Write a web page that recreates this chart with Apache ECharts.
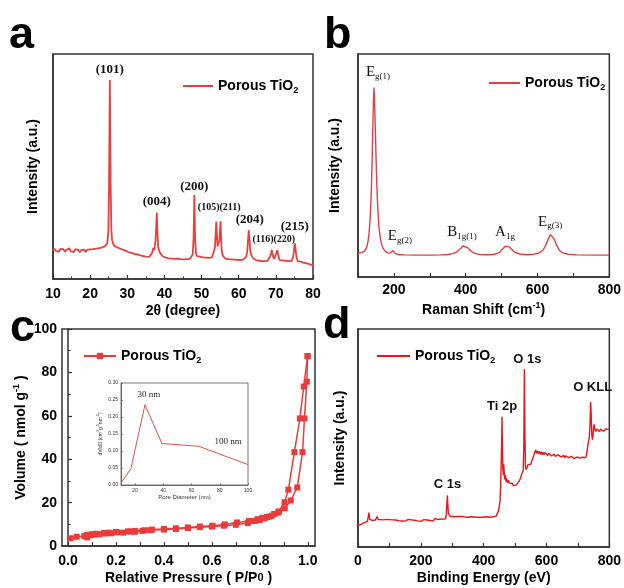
<!DOCTYPE html>
<html>
<head>
<meta charset="utf-8">
<script src="https://cdn.jsdelivr.net/npm/echarts@6/dist/echarts.min.js"></script>
<style>
  html, body { margin: 0; padding: 0; background: #fff; }
  #chart { width: 624px; height: 588px; }
</style>
</head>
<body>
<div id="chart"></div>
<script>
// ---------- (a) XRD pattern: [2θ, intensity a.u.] ----------
const xrdPattern = [
  [10.0,12.6],[10.4,13.5],[10.8,12.4],[11.2,13.1],[11.6,12.2],[12.0,13.4],[12.4,12.7],[12.8,13.3],
  [13.2,12.1],[13.6,13.0],[14.0,12.5],[14.4,13.6],[14.8,12.3],[15.2,12.9],[15.6,12.0],[16.0,13.2],
  [16.4,12.4],[16.8,13.0],[17.2,11.9],[17.6,12.8],[18.0,12.2],[18.4,13.1],[18.8,12.0],[19.2,12.9],
  [19.6,12.3],[20.0,13.2],[20.4,12.4],[20.8,13.3],[21.2,12.6],[21.6,13.5],[22.0,12.8],[22.4,13.7],
  [22.8,13.0],[23.2,14.0],[23.6,13.4],[24.0,14.6],[24.3,14.2],[24.6,15.8],[24.9,21],[25.1,42],
  [25.3,88.4],[25.5,44],[25.7,22],[25.9,17.5],[26.2,15.6],[26.5,14.7],[26.8,15.3],[27.1,14.2],
  [27.5,14.8],[27.9,13.6],[28.3,14.2],[28.7,13.1],[29.1,13.6],[29.5,12.6],[29.9,13.0],[30.3,12.0],
  [30.7,12.5],[31.1,11.6],[31.5,12.2],[31.9,11.2],[32.3,11.8],[32.7,10.9],[33.1,11.4],[33.5,10.5],
  [33.9,11.0],[34.3,10.2],[34.7,10.7],[35.1,9.9],[35.5,10.4],[35.9,9.8],[36.3,10.6],[36.7,11.6],
  [37.0,13.8],[37.3,12.9],[37.6,17],[37.8,24],[37.95,29.5],[38.1,22],[38.3,14.5],[38.5,12.8],
  [38.7,13.5],[38.9,11.4],[39.2,10.6],[39.6,10.0],[40.0,10.3],[40.4,9.5],[40.8,10.0],[41.2,9.2],
  [41.6,9.8],[42.0,9.1],[42.4,9.6],[42.8,8.9],[43.2,9.5],[43.6,9.0],[44.0,9.4],[44.4,8.8],
  [44.8,9.3],[45.2,8.7],[45.6,9.2],[46.0,8.8],[46.4,9.4],[46.8,8.9],[47.2,9.6],[47.6,10.8],
  [47.85,18],[48.05,37.3],[48.25,18],[48.5,11.2],[48.8,10.2],[49.2,9.4],[49.6,9.9],[50.0,9.1],
  [50.4,9.6],[50.8,9.0],[51.2,9.5],[51.6,8.9],[52.0,9.4],[52.4,8.9],[52.8,9.6],[53.2,10.3],
  [53.6,14],[53.95,25.5],[54.3,14.5],[54.55,15.9],[54.8,17],[55.1,25.6],[55.4,13],[55.7,10.4],
  [56.0,9.6],[56.4,9.1],[56.8,9.5],[57.2,8.8],[57.6,9.3],[58.0,8.7],[58.4,9.2],[58.8,8.6],
  [59.2,9.1],[59.6,8.5],[60.0,9.0],[60.4,8.4],[60.8,9.0],[61.2,8.6],[61.6,9.3],[62.0,9.8],
  [62.3,12.5],[62.5,17],[62.7,21.8],[62.9,17.5],[63.1,12.8],[63.4,10.6],[63.8,9.4],[64.2,9.0],
  [64.6,8.4],[65.0,8.9],[65.4,8.2],[65.8,8.7],[66.2,8.0],[66.6,8.5],[67.0,7.9],[67.4,8.4],
  [67.8,8.1],[68.2,8.9],[68.6,10.6],[68.9,12.9],[69.2,10.4],[69.5,8.9],[69.8,9.6],[70.1,11.4],
  [70.4,12.9],[70.7,10.2],[71.0,8.4],[71.4,7.9],[71.8,8.3],[72.2,7.6],[72.6,8.1],[73.0,7.4],
  [73.4,7.9],[73.8,7.5],[74.2,8.0],[74.6,9.4],[74.9,13],[75.1,15.9],[75.35,12.5],[75.6,9.2],
  [75.9,7.9],[76.2,7.2],[76.6,7.7],[77.0,6.9],[77.4,7.3],[77.8,6.5],[78.2,7.0],[78.6,6.2],
  [79.0,6.6],[79.4,5.8],[79.8,6.2],[80.0,5.6]
];
// reflection indices with the peak each one sits over: [label, 2θ, intensity]
const xrdPeaks = [
  ['(101)', 25.3, 88.4], ['(004)', 37.95, 29.5], ['(200)', 48.05, 37.3],
  ['(105)(211)', 53.95, 25.5], ['(204)', 62.7, 21.8], ['(116)(220)', 68.9, 12.9], ['(215)', 75.1, 15.9]
];

// ---------- (b) Raman spectrum: [shift cm-1, intensity a.u.] ----------
const ramanSpectrum = [
  [100,10.5],[110,10.9],[118,11.6],[124,13.2],[128,16],[131,20],[134,27],[137,38],[139,50],
  [141,65],[143,79],[144.5,85],[146,80],[148,68],[150,55],[152,43],[155,31],[158,23],[162,17.5],
  [166,14.5],[171,12.6],[177,11.4],[184,10.8],[190,10.7],[194,11.2],[197,11.9],[200,11.3],
  [204,10.5],[212,10.1],[230,9.9],[260,9.8],[300,9.8],[330,9.9],[350,10.1],[365,10.5],[375,11.3],
  [385,12.7],[393,13.9],[398,14.0],[405,13.2],[415,11.6],[425,10.6],[440,10.1],[460,10.0],
  [475,10.1],[485,10.4],[495,11.2],[503,12.6],[510,13.8],[515,14.0],[520,13.6],[528,12.4],
  [538,11.0],[550,10.3],[570,10.0],[590,10.2],[605,10.8],[615,12.0],[623,14.2],[630,17.0],
  [636,19.0],[641,18.9],[646,17.2],[653,14.4],[661,12.0],[670,10.8],[685,10.2],[710,9.9],
  [760,9.8],[800,9.8]
];
// Raman-active modes: [main letter, subscript, shift, intensity]
const ramanModes = [
  ['E', 'g(1)', 144.5, 85], ['E', 'g(2)', 197, 11.9], ['B', '1g(1)', 398, 14.0],
  ['A', '1g', 515, 14.0], ['E', 'g(3)', 638, 19.0]
];

// ---------- (c) N2 isotherm: [P/P0, volume] ----------
const isothermAdsorption = [
  [0.011,3.6],[0.036,4.3],[0.068,4.6],[0.08,4.0],[0.095,5.0],[0.11,5.3],[0.13,5.4],[0.155,5.8],
  [0.18,5.9],[0.205,6.3],[0.23,6.2],[0.26,6.7],[0.28,6.6],[0.31,7.0],[0.345,7.3],[0.40,7.6],
  [0.45,7.9],[0.50,8.3],[0.55,8.7],[0.60,9.0],[0.65,9.4],[0.70,9.8],[0.75,10.6],[0.78,11.6],
  [0.80,12.0],[0.82,12.8],[0.84,13.6],[0.86,14.8],[0.88,16.0],[0.904,17.4],[0.929,21.0],
  [0.956,27.0],[0.978,43.3],[0.986,58.8],[0.996,75.7],[0.999,87.5]
];
const isothermDesorption = [
  [0.999,87.5],[0.983,73.5],[0.967,58.8],[0.944,43.3],[0.919,26.0],[0.903,20.2],[0.876,15.4],
  [0.85,14.0],[0.83,13.4],[0.81,13.0],[0.79,12.4],[0.755,11.6],[0.705,10.9],[0.654,10.0],
  [0.603,9.4],[0.55,9.0],[0.50,8.6],[0.45,8.2],[0.40,7.9],[0.35,7.6],[0.32,7.3],[0.28,7.0],
  [0.25,6.8],[0.20,6.5],[0.17,6.2],[0.15,6.0],[0.12,5.7],[0.10,5.5],[0.08,5.2]
];
const pressureTicks = [0, 0.2, 0.4, 0.6, 0.8, 1.0];
const pressureMinorTicks = [0, 0.1, 0.2, 0.3, 0.4, 0.5, 0.6, 0.7, 0.8, 0.9, 1.0];

// ---------- (c, inset) pore size distribution: [diameter nm, dV/dD] ----------
const poreDistribution = [[10,0.006],[17,0.048],[27,0.236],[39,0.122],[65,0.114],[100,0.060]];
const poreTicks = [20, 40, 60, 80, 100];
const poreNotes = [['30 nm', 27, 0.236], ['100 nm', 86, 0.128]];

// ---------- (d) XPS survey: [binding energy eV, intensity a.u.] ----------
const xpsSurvey = [
  [0,10.0],[5,9.6],[10,10.4],[15,10.8],[20,11.2],[25,11.0],[30,11.8],[33,12.4],[35,15.8],[37,12.8],
  [40,12.0],[45,12.2],[50,11.8],[55,12.4],[58,12.8],[61,14.0],[64,12.6],[68,12.2],[72,12.6],[76,12.0],
  [80,12.5],[85,12.1],[90,12.7],[95,12.2],[100,12.6],[105,12.0],[110,12.5],[115,11.9],[120,12.4],
  [125,12.8],[130,12.1],[135,12.6],[140,12.0],[145,12.5],[150,11.9],[155,12.4],[160,12.7],[165,12.1],
  [170,12.5],[175,11.9],[180,12.3],[185,12.7],[190,12.0],[195,12.4],[200,11.8],[205,12.3],[210,12.6],
  [215,12.0],[220,12.4],[225,12.8],[230,12.2],[235,12.6],[240,12.1],[245,13.2],[248,12.4],[252,12.7],
  [256,12.2],[260,12.8],[265,12.4],[270,12.9],[275,12.6],[279,13.0],[281,15],[283,20],[284.5,23.7],
  [286,19],[288,15.2],[290,14.4],[294,14.0],[298,14.6],[302,14.1],[306,14.5],[310,13.9],[315,14.4],
  [320,14.0],[325,14.6],[330,14.1],[335,14.5],[340,13.8],[345,14.3],[350,13.7],[355,14.2],[360,13.9],
  [365,14.4],[370,13.8],[375,14.3],[380,13.7],[385,14.1],[390,13.6],[395,14.2],[400,13.8],[405,14.4],
  [410,13.9],[415,14.3],[420,13.7],[425,14.2],[430,13.9],[435,14.6],[440,14.2],[444,14.8],[447,16.5],
  [450,19],[452,21],[454,28],[456,40],[457.5,50],[458.5,59.8],[459.5,48],[461,36],[462.5,33],[464,38],
  [465.5,34],[467,31],[469,33],[471,30],[473,31.5],[476,29.5],[479,30.6],[482,29.2],[485,29.8],
  [488,28.6],[491,29.3],[494,28.2],[497,28.8],[500,27.6],[503,28.4],[506,29.0],[509,28.6],[512,30.0],
  [515,30.6],[518,31.8],[521,33.5],[524,32.8],[526,35],[528,48],[529.5,81.5],[531,55],[533,37],
  [535,35.5],[538,36.5],[541,37.8],[544,37.2],[547,38.6],[550,38.0],[553,39.5],[556,40.2],[559,41.8],
  [562,43.2],[565,44.5],[568,43.0],[571,44.2],[574,42.8],[577,43.9],[580,42.6],[583,43.7],[586,42.4],
  [589,43.5],[592,42.3],[595,43.4],[598,42.5],[601,43.2],[604,42.0],[607,43.0],[610,42.2],[613,42.9],
  [616,41.8],[619,42.7],[622,41.9],[625,42.6],[628,41.6],[631,42.5],[634,41.7],[637,42.3],[640,41.5],
  [643,42.6],[646,41.4],[649,42.1],[652,41.3],[655,42.0],[658,40.8],[661,41.9],[664,41.2],[667,42.0],
  [670,41.0],[673,41.7],[676,40.8],[679,41.6],[682,40.9],[685,41.5],[688,40.6],[691,41.4],[694,40.7],
  [697,41.3],[700,40.5],[703,41.2],[706,40.8],[709,41.4],[712,40.6],[715,41.2],[718,40.7],[721,41.3],
  [724,41.0],[727,42.0],[730,45],[733,48],[736,50],[738.5,56],[740.5,66.5],[742,62],[744,52],
  [746,49.2],[748,51],[750,55],[752,56.3],[754,54],[757,53],[760,54.2],[763,53.4],[766,54.5],
  [769,53.0],[772,54.1],[775,53.2],[778,54.3],[781,53.1],[784,54.0],[787,52.9],[790,54.2],[793,53.5],
  [796,54.6],[800,54.0]
];
// core levels: [label, binding energy, intensity]
const xpsLines = [['C 1s', 284.5, 23.7], ['Ti 2p', 458.5, 59.8], ['O 1s', 529.5, 81.5], ['O KLL', 740.5, 66.5]];

// ---------- styling ----------
const SANS = '"Liberation Sans", Arial, Helvetica, sans-serif';
const SERIF = '"Liberation Serif", "Times New Roman", serif';
const AXIS = '#333';
const legendText = () => 'Porous TiO{sub|2}';

const xrdLabelOffsets = [[0,-10],[0,-11],[0,-8],[3,-14],[1,-10],[2,-11],[0,-17]];
const ramanLabelOffsets = [[4,-15],[7,-14],[-3,-14],[-2,-14],[-1,-13]];
const xpsLabelOffsets = [[0,-11],[0,-10],[3,-10],[2,-15]];
const poreNoteOffsets = [[4,-10],[0,0]];

const boldLabel = { color: '#000', fontSize: 14, fontWeight: 'bold', fontFamily: SANS };
const nameStyle = {
  color: '#000', fontSize: 14, fontWeight: 'bold', fontFamily: SANS, lineHeight: 18,
  rich: { sup: { fontSize: 9, fontWeight: 'bold', fontFamily: SANS, color: '#000', verticalAlign: 'top', lineHeight: 18 },
          sm:  { fontSize: 11, fontWeight: 'bold', fontFamily: SANS, color: '#000' } }
};
const axisLine = { show: true, lineStyle: { color: AXIS, width: 1.5 } };
const grids = [
  { left: 53,  top: 54,  width: 260, height: 225 },
  { left: 358, top: 54,  width: 259, height: 223 },
  { left: 62,  top: 329, width: 253, height: 222 },
  { left: 358, top: 329, width: 259, height: 222 },
  { left: 121, top: 383, width: 127, height: 102 }
].map((g, i) => Object.assign(g, {
  show: true, borderColor: i === 4 ? '#555' : AXIS, borderWidth: i === 4 ? 0.8 : 1.5, backgroundColor: 'transparent'
}));

function bottomAxis(gridIndex, extra) {
  return Object.assign({
    gridIndex, type: 'value', axisLine,
    axisTick: { show: true, inside: true, length: 4, lineStyle: { color: AXIS, width: 1.2 } },
    axisLabel: Object.assign({ margin: 8 }, boldLabel),
    splitLine: { show: false },
    nameLocation: 'middle', nameTextStyle: nameStyle
  }, extra);
}
function plainLeftAxis(gridIndex, name, nameGap) {
  return {
    gridIndex, type: 'value', min: 0, max: 100, axisLine,
    axisTick: { show: false }, axisLabel: { show: false }, splitLine: { show: false },
    name, nameLocation: 'middle', nameGap, nameTextStyle: nameStyle
  };
}
function markLabels(items, offsets, labelFn, style) {
  return {
    symbol: 'circle', symbolSize: 0, silent: true, animation: false,
    label: Object.assign({ show: true, position: 'inside', formatter: p => labelFn(p.name) }, style),
    data: items.map((it, i) => ({ name: it[0], coord: [it[it.length - 2], it[it.length - 1]],
      label: { offset: offsets[i] } }))
  };
}

const chart = echarts.init(document.getElementById('chart'), null, { renderer: 'canvas' });
chart.setOption({
  animation: false,
  backgroundColor: '#fff',
  grid: grids,
  xAxis: [
    bottomAxis(0, { min: 10, max: 80, interval: 10,
      minorTick: { show: true, splitNumber: 2, length: 2.5, lineStyle: { color: AXIS } },
      name: '2θ (degree)', nameGap: 23 }),
    bottomAxis(1, { min: 100, max: 800, interval: 100,
      axisLabel: Object.assign({ margin: 6, formatter: v => (v % 200 === 0 ? String(v) : '') }, boldLabel),
      name: 'Raman Shift (cm{sup|-1})', nameGap: 24 }),
    bottomAxis(2, { min: -0.025, max: 1.03,
      axisTick: { show: true, inside: true, length: 4, customValues: pressureMinorTicks, lineStyle: { color: AXIS, width: 1.2 } },
      axisLabel: Object.assign({ margin: 8, customValues: pressureTicks, formatter: v => v.toFixed(1) }, boldLabel),
      name: 'Relative Pressure ( P/P{sm|0} )', nameGap: 22 }),
    bottomAxis(3, { min: 0, max: 800, interval: 100,
      axisLabel: Object.assign({ margin: 7, formatter: v => (v % 200 === 0 ? String(v) : '') }, boldLabel),
      name: 'Binding Energy (eV)', nameGap: 20 }),
    {
      gridIndex: 4, type: 'value', min: 10, max: 100,
      axisLine: { show: true, lineStyle: { color: '#555', width: 0.8 } },
      axisTick: { show: true, inside: true, length: 2, customValues: poreTicks, lineStyle: { color: '#555', width: 0.6 } },
      axisLabel: { customValues: poreTicks, fontSize: 5, color: '#333', margin: 3, fontFamily: SANS },
      splitLine: { show: false },
      name: 'Pore Diameter (nm)', nameLocation: 'middle', nameGap: 9,
      nameTextStyle: { fontSize: 6, color: '#333', fontFamily: SANS }
    }
  ],
  yAxis: [
    plainLeftAxis(0, 'Intensity (a.u.)', 11),
    plainLeftAxis(1, 'Intensity (a.u.)', 14),
    {
      gridIndex: 2, type: 'value', min: 0, max: 100, interval: 20, axisLine,
      axisTick: { show: true, inside: true, length: 4, lineStyle: { color: AXIS, width: 1.2 } },
      minorTick: { show: true, splitNumber: 2, length: 2.5, lineStyle: { color: AXIS } },
      axisLabel: Object.assign({ margin: 5 }, boldLabel), splitLine: { show: false },
      name: 'Volume ( nmol g{sup|-1} )', nameLocation: 'middle', nameGap: 18, nameTextStyle: nameStyle
    },
    plainLeftAxis(3, 'Intensity (a.u.)', 9),
    {
      gridIndex: 4, type: 'value', min: 0, max: 0.3, interval: 0.05,
      axisLine: { show: true, lineStyle: { color: '#555', width: 0.8 } },
      axisTick: { show: true, inside: true, length: 2, lineStyle: { color: '#555', width: 0.6 } },
      axisLabel: { fontSize: 5, color: '#333', margin: 3, fontFamily: SANS, formatter: v => v.toFixed(2) },
      splitLine: { show: false },
      name: 'dV/dD (cm{sup|3}g{sup|-1}nm{sup|-1})', nameLocation: 'middle', nameGap: 13,
      nameTextStyle: { fontSize: 5, color: '#333', fontFamily: SANS, lineHeight: 8,
        rich: { sup: { fontSize: 3.5, color: '#333', verticalAlign: 'top', lineHeight: 8 } } }
    }
  ],
  legend: [
    { data: [{ name: 'XRD', icon: 'rect' }], left: 183, top: 77, itemWidth: 30, itemHeight: 2 },
    { data: [{ name: 'Raman', icon: 'rect' }], left: 489, top: 74, itemWidth: 31, itemHeight: 2 },
    { data: ['Adsorption'], left: 83, top: 347, itemWidth: 32, itemHeight: 8 },
    { data: [{ name: 'XPS', icon: 'rect' }], left: 377, top: 347, itemWidth: 33, itemHeight: 2 }
  ].map(l => Object.assign({
    padding: 0, itemGap: 0, formatter: legendText, selectedMode: false,
    textStyle: { color: '#000', fontSize: 14, fontWeight: 'bold', fontFamily: SANS, lineHeight: 18,
      rich: { sub: { fontSize: 9, fontWeight: 'bold', fontFamily: SANS, color: '#000', verticalAlign: 'bottom', lineHeight: 18 } } }
  }, l)),
  series: [
    {
      name: 'XRD', type: 'line', xAxisIndex: 0, yAxisIndex: 0, data: xrdPattern,
      symbol: 'none', lineStyle: { color: '#e8403f', width: 1.8 }, itemStyle: { color: '#e8403f' },
      markPoint: markLabels(xrdPeaks, xrdLabelOffsets, n => n.length > 6 ? '{s|' + n + '}' : n, {
        color: '#111', fontFamily: SERIF, fontWeight: 'bold', fontSize: 13,
        rich: { s: { color: '#111', fontFamily: SERIF, fontWeight: 'bold', fontSize: 10 } }
      })
    },
    {
      name: 'Raman', type: 'line', xAxisIndex: 1, yAxisIndex: 1, data: ramanSpectrum,
      symbol: 'none', lineStyle: { color: '#de4048', width: 1.4 }, itemStyle: { color: '#de4048' },
      markPoint: markLabels(ramanModes.map(m => [m[0] + '|' + m[1], m[2], m[3]]), ramanLabelOffsets,
        n => n.split('|')[0] + '{s|' + n.split('|')[1] + '}', {
          color: '#111', fontFamily: SERIF, fontSize: 15, lineHeight: 18,
          rich: { s: { color: '#111', fontFamily: SERIF, fontSize: 9, verticalAlign: 'bottom', lineHeight: 18 } }
        })
    },
    {
      name: 'Adsorption', type: 'line', xAxisIndex: 2, yAxisIndex: 2, data: isothermAdsorption,
      symbol: 'rect', symbolSize: 6, lineStyle: { color: '#ea3b3b', width: 1.5 }, itemStyle: { color: '#ea3b3b' }
    },
    {
      name: 'Desorption', type: 'line', xAxisIndex: 2, yAxisIndex: 2, data: isothermDesorption,
      symbol: 'rect', symbolSize: 6, lineStyle: { color: '#ea3b3b', width: 1.5 }, itemStyle: { color: '#ea3b3b' }
    },
    {
      name: 'PSD', type: 'line', xAxisIndex: 4, yAxisIndex: 4, data: poreDistribution,
      symbol: 'none', lineStyle: { color: '#d9534f', width: 1 }, itemStyle: { color: '#d9534f' },
      markPoint: markLabels(poreNotes, poreNoteOffsets, n => n, {
        color: '#222', fontFamily: SERIF, fontSize: 9
      })
    },
    {
      name: 'XPS', type: 'line', xAxisIndex: 3, yAxisIndex: 3, data: xpsSurvey,
      symbol: 'none', lineStyle: { color: '#e8161b', width: 1.4 }, itemStyle: { color: '#e8161b' },
      markPoint: markLabels(xpsLines, xpsLabelOffsets, n => n, {
        color: '#111', fontFamily: SANS, fontWeight: 'bold', fontSize: 13
      })
    }
  ],
  graphic: [
    { type: 'text', left: 9,   top: 13,  style: { text: 'a', font: 'bold 45px ' + SANS, fill: '#000' } },
    { type: 'text', left: 324, top: 13,  style: { text: 'b', font: 'bold 45px ' + SANS, fill: '#000' } },
    { type: 'text', left: 10,  top: 306, style: { text: 'c', font: 'bold 45px ' + SANS, fill: '#000' } },
    { type: 'text', left: 323, top: 303, style: { text: 'd', font: 'bold 45px ' + SANS, fill: '#000' } }
  ]
});
</script>
</body>
</html>
